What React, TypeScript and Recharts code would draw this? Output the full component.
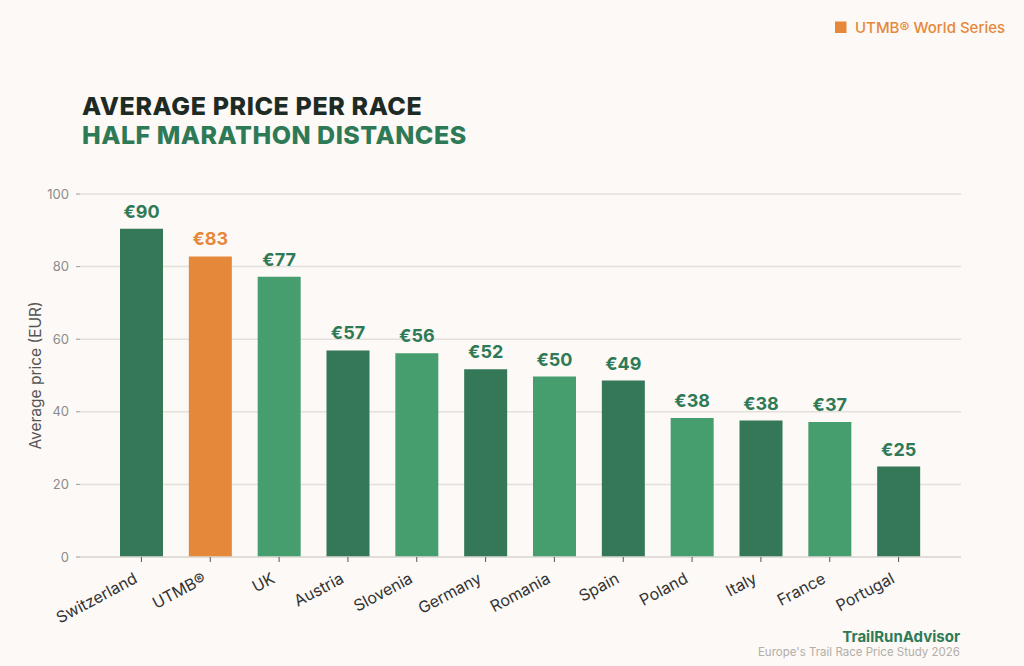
import { BarChart, Bar, XAxis, YAxis, CartesianGrid, Cell, LabelList, Label } from 'recharts';

const countries = ['Switzerland', 'UTMB®', 'UK', 'Austria', 'Slovenia', 'Germany', 'Romania', 'Spain', 'Poland', 'Italy', 'France', 'Portugal'];
const prices = [90.4, 82.8, 77.2, 56.9, 56.1, 51.7, 49.7, 48.6, 38.3, 37.6, 37.2, 24.9];
const yTicks = [0, 20, 40, 60, 80, 100];
const highlight = 'UTMB®';

const data = countries.map((name, i) => ({ name, price: prices[i] }));

const DARK = '#347858';
const LIGHT = '#469e6f';
const ORANGE = '#e6883a';
const FONT = 'Inter, "Noto Sans", sans-serif';

function barColor(i: number) {
  if (countries[i] === highlight) return ORANGE;
  if (i === 0 || i % 2 === 1) return DARK;
  return LIGHT;
}

// rotated category labels, anchored at the end of the baseline
const XTick = (props: any) => {
  const { x, y, payload } = props;
  return (
    <g transform={`translate(${x - 3},${y + 18})`}>
      <text textAnchor="end" transform="rotate(-28)" fill="#333" fontSize={16} fontFamily={FONT}>
        {payload.value}
      </text>
    </g>
  );
};

const ValueLabel = (props: any) => {
  const { x, y, width, value, index } = props;
  const isHl = countries[index] === highlight;
  return (
    <text
      x={x + width / 2}
      y={y - 11}
      textAnchor="middle"
      fill={isHl ? ORANGE : '#2f7a56'}
      fontSize={18}
      fontWeight={700}
      fontFamily={FONT}
    >
      {`€${Math.round(value)}`}
    </text>
  );
};

export default function App() {
  return (
    <div style={{ position: 'absolute', left: 0, top: 0, width: 1024, height: 666, background: '#fcf9f6' }}>
      <BarChart
        width={1024}
        height={666}
        data={data}
        margin={{ top: 194, right: 63, bottom: 49, left: 0 }}
      >
        <CartesianGrid vertical={false} stroke="#e4e0dc" strokeWidth={1.5} />
        <XAxis
          dataKey="name"
          interval={0}
          height={60}
          padding={{ left: 27, right: 28 }}
          axisLine={{ stroke: '#dedad6', strokeWidth: 1.5 }}
          tickLine={{ stroke: '#555' }}
          tickSize={5}
          tick={<XTick />}
        />
        <YAxis
          width={80}
          domain={[0, 100]}
          ticks={yTicks}
          axisLine={false}
          tickLine={{ stroke: '#999' }}
          tickSize={4}
          tickMargin={7}
          tick={{ fill: '#8c8c8c', fontSize: 13, fontFamily: FONT }}
        >
          <Label
            value="Average price (EUR)"
            angle={-90}
            position="insideLeft"
            offset={35}
            style={{ textAnchor: 'middle', fill: '#555', fontSize: 15.5, fontFamily: FONT }}
          />
        </YAxis>
        <Bar dataKey="price" barSize={43} isAnimationActive={false}>
          {data.map((d, i) => (
            <Cell key={d.name} fill={barColor(i)} />
          ))}
          <LabelList dataKey="price" content={<ValueLabel />} />
        </Bar>
      </BarChart>
      <svg width={1024} height={666} style={{ position: 'absolute', left: 0, top: 0, pointerEvents: 'none' }}>
        <text x={82} y={115} fill="#1e2a24" fontSize={25} fontWeight={800} letterSpacing={0.6} fontFamily={FONT}>
          AVERAGE PRICE PER RACE
        </text>
        <text x={82} y={144} fill="#2f7a56" fontSize={25} fontWeight={800} letterSpacing={0.5} fontFamily={FONT}>
          HALF MARATHON DISTANCES
        </text>
        <rect x={835} y={21.5} width={11.5} height={11.5} fill={ORANGE} />
        <text x={855} y={32.5} fill={ORANGE} fontSize={15} fontWeight={500} fontFamily={FONT}>
          UTMB® World Series
        </text>
        <text x={960} y={641.5} textAnchor="end" fill="#2f7a56" fontSize={15} fontWeight={700} fontFamily={FONT}>
          TrailRunAdvisor
        </text>
        <text x={960} y={656} textAnchor="end" fill="#b3aea8" fontSize={11.5} fontFamily={FONT}>
          Europe's Trail Race Price Study 2026
        </text>
      </svg>
    </div>
  );
}
